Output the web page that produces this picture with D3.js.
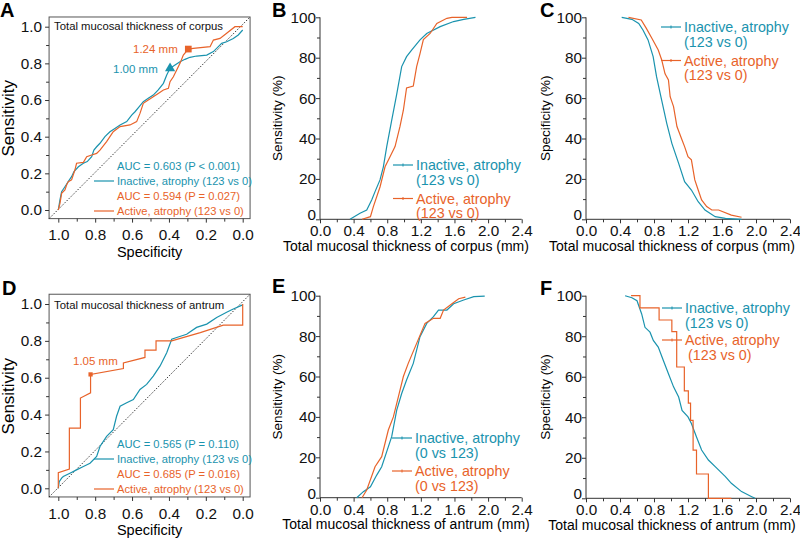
<!DOCTYPE html>
<html><head><meta charset="utf-8">
<script src="https://cdn.jsdelivr.net/npm/d3@7/dist/d3.min.js"></script>
<style>body{margin:0;background:#fff} text{font-family:Arial,"Liberation Sans",sans-serif}</style>
</head><body><svg id="c" width="800" height="541"></svg>
<script>
// ---------- data ----------
const rocTicks = [1.0, 0.8, 0.6, 0.4, 0.2, 0.0];
const mmTicks = [0, 0.4, 0.8, 1.2, 1.6, 2.0, 2.4];
const pctTicks = [0, 20, 40, 60, 80, 100];
const seriesNames = ["Inactive, atrophy", "Active, atrophy"];

// Panel A: ROC corpus [specificity, sensitivity]
const rocCorpusInactive = [[1,0],[0.991,0.055],[0.982,0.1],[0.964,0.127],[0.946,0.155],[0.928,0.182],[0.915,0.209],[0.891,0.236],[0.864,0.255],[0.843,0.264],[0.819,0.291],[0.807,0.327],[0.792,0.345],[0.774,0.364],[0.747,0.4],[0.72,0.427],[0.693,0.445],[0.665,0.464],[0.629,0.482],[0.602,0.518],[0.584,0.536],[0.561,0.564],[0.539,0.591],[0.512,0.609],[0.485,0.627],[0.458,0.655],[0.43,0.691],[0.412,0.736],[0.394,0.773],[0.367,0.791],[0.34,0.809],[0.313,0.822],[0.286,0.833],[0.25,0.84],[0.195,0.845],[0.159,0.864],[0.132,0.891],[0.114,0.909],[0.087,0.918],[0.051,0.936],[0.024,0.955],[0,0.982]];
const rocCorpusActive = [[1,0],[0.991,0.036],[0.982,0.091],[0.964,0.109],[0.955,0.136],[0.946,0.155],[0.928,0.164],[0.91,0.218],[0.901,0.255],[0.864,0.26],[0.846,0.291],[0.819,0.3],[0.792,0.309],[0.774,0.327],[0.738,0.373],[0.702,0.427],[0.665,0.455],[0.611,0.464],[0.575,0.482],[0.557,0.527],[0.539,0.582],[0.512,0.6],[0.485,0.618],[0.458,0.636],[0.43,0.655],[0.403,0.664],[0.394,0.7],[0.376,0.727],[0.358,0.764],[0.34,0.8],[0.322,0.845],[0.295,0.878],[0.268,0.882],[0.177,0.891],[0.159,0.927],[0.123,0.936],[0.087,0.964],[0.042,1.0],[0,1.0]];
const cutCorpus = [[0.394,0.773,"1.00 mm"],[0.295,0.878,"1.24 mm"]];
const aucCorpus = ["AUC = 0.603 (P < 0.001)", "AUC = 0.594 (P = 0.027)"];

// Panel D: ROC antrum
const rocAntrumInactive = [[1,0],[0.995,0.036],[0.982,0.055],[0.973,0.064],[0.937,0.082],[0.901,0.1],[0.864,0.118],[0.828,0.136],[0.792,0.173],[0.774,0.227],[0.738,0.282],[0.702,0.318],[0.684,0.391],[0.665,0.445],[0.629,0.464],[0.593,0.482],[0.557,0.536],[0.521,0.564],[0.485,0.609],[0.448,0.664],[0.412,0.736],[0.385,0.809],[0.358,0.818],[0.304,0.836],[0.25,0.873],[0.195,0.891],[0.141,0.927],[0.087,0.955],[0.051,0.973],[0,0.995]];
const rocAntrumActive = [[1,0],[1,0.085],[0.94,0.105],[0.94,0.327],[0.88,0.327],[0.88,0.49],[0.825,0.518],[0.825,0.618],[0.647,0.65],[0.647,0.68],[0.53,0.71],[0.53,0.75],[0.47,0.75],[0.47,0.8],[0.385,0.8],[0.23,0.845],[0.105,0.885],[0,0.885],[0,1.0]];
const cutAntrum = [[0.825,0.618,"1.05 mm"]];
const aucAntrum = ["AUC = 0.565 (P = 0.110)", "AUC = 0.685 (P = 0.016)"];

// Panel B: sensitivity (%) vs corpus thickness (mm)
const sensCorpusInactive = [[0.357,0],[0.476,3],[0.556,4.6],[0.615,9.6],[0.655,13.7],[0.714,19.5],[0.754,26],[0.794,36],[0.853,49],[0.913,62],[0.972,75.6],[1.03,80.5],[1.09,83.8],[1.19,88.8],[1.27,92],[1.43,95.4],[1.59,97.9],[1.71,99],[1.85,100]];
const sensCorpusActive = [[0.5,0],[0.6,1.3],[0.635,6.3],[0.714,16],[0.774,26],[0.833,31],[0.893,36],[0.952,46],[0.992,54],[1.03,65],[1.11,66],[1.15,75.6],[1.19,82],[1.23,89],[1.31,92],[1.39,97],[1.51,99.5],[1.57,100],[1.75,100]];
// Panel C: specificity (%) vs corpus thickness
const specCorpusInactive = [[0.42,100],[0.54,99],[0.62,97],[0.67,93.7],[0.73,88.8],[0.79,80.5],[0.83,70.6],[0.89,59],[0.95,47.5],[1.01,37.6],[1.09,27.7],[1.16,18.6],[1.24,14.5],[1.32,8.7],[1.4,4.6],[1.52,1.3],[1.64,0.5],[1.83,0]];
const specCorpusActive = [[0.5,100],[0.65,98.7],[0.71,94.5],[0.77,90],[0.85,83.8],[0.89,79],[0.93,72],[0.97,69],[0.99,60.7],[1.03,55.8],[1.07,45.9],[1.13,39.3],[1.16,36],[1.2,31],[1.24,29.4],[1.28,19.5],[1.32,14.5],[1.36,9.6],[1.42,6.3],[1.48,4.6],[1.56,4.6],[1.71,2.1],[1.83,1]];
// Panel E: sensitivity (%) vs antrum thickness
const sensAntrumInactive = [[0.437,0],[0.516,3],[0.6,5.4],[0.675,11.2],[0.734,15.3],[0.794,22.8],[0.853,30.2],[0.913,43.4],[0.972,51.6],[1.03,58.3],[1.11,66.5],[1.19,79.7],[1.27,86.3],[1.35,89.6],[1.41,92.9],[1.51,92.9],[1.59,96],[1.71,97.9],[1.83,99.5],[1.96,99.8]];
const sensAntrumActive = [[0.5,0],[0.556,3.8],[0.655,15.3],[0.734,20.3],[0.813,33.5],[0.873,40],[0.933,50],[0.992,60],[1.05,66.5],[1.15,76.4],[1.25,86.3],[1.35,88.8],[1.43,88.8],[1.47,92.9],[1.57,96],[1.65,98.5],[1.73,99.3]];
// Panel F: specificity (%) vs antrum thickness
const specAntrumInactive = [[0.46,100],[0.54,99],[0.6,97.5],[0.655,91],[0.694,84.4],[0.753,82],[0.792,77.9],[0.85,74.6],[0.91,68],[0.97,61.5],[1.03,55],[1.09,50],[1.13,43.4],[1.2,40.2],[1.24,36.9],[1.3,30.3],[1.36,23.8],[1.44,18.9],[1.52,15.6],[1.64,10.7],[1.71,7.4],[1.83,3.3],[1.95,0.8],[1.99,0]];
const specAntrumActive = [[0.53,100],[0.635,94],[0.86,88],[1.01,82.3],[1.067,64.8],[1.157,53],[1.204,47],[1.23,38.5],[1.26,23.8],[1.3,12],[1.44,0],[1.71,0]];

// ---------- drawing ----------
const teal = "#1A93AE", orange = "#E8632A", axisCol = "#333";
const svg = d3.select("#c");

function letter(t, x, y){
  svg.append("text").attr("x",x).attr("y",y).attr("font-size",20).attr("font-weight","bold").text(t);
}
function styleAxis(g){
  g.select(".domain").remove();
  g.selectAll(".tick line").attr("stroke",axisCol);
  g.selectAll("text").attr("font-size",15.3).attr("fill","#111");
}

function rocPanel(p){
  const g = svg.append("g");
  const x = d3.scaleLinear().domain([1,0]).range(p.xr);
  const y = d3.scaleLinear().domain([0,1]).range(p.yr);
  const l = x(1.05), r = x(-0.04), b = y(-0.047), t = y(1.053);
  g.append("rect").attr("x",l).attr("y",t).attr("width",r-l).attr("height",b-t)
    .attr("fill","none").attr("stroke","#555").attr("stroke-width",1);
  g.append("line").attr("x1",l).attr("y1",b).attr("x2",r).attr("y2",t)
    .attr("stroke","#222").attr("stroke-width",0.9).attr("stroke-dasharray","1.5,1.6");
  const ax = g.append("g").attr("transform",`translate(0,${b})`)
    .call(d3.axisBottom(x).tickValues(rocTicks).tickFormat(d3.format(".1f")).tickSize(4).tickPadding(7));
  styleAxis(ax);
  const axm = g.append("g").attr("transform",`translate(0,${b})`)
    .call(d3.axisBottom(x).tickValues([0.9,0.7,0.5,0.3,0.1]).tickFormat("").tickSize(3));
  styleAxis(axm);
  const ay = g.append("g").attr("transform",`translate(${l},0)`)
    .call(d3.axisLeft(y).tickValues(rocTicks).tickFormat(d3.format(".1f")).tickSize(4).tickPadding(3));
  styleAxis(ay);
  const aym = g.append("g").attr("transform",`translate(${l},0)`)
    .call(d3.axisLeft(y).tickValues([0.9,0.7,0.5,0.3,0.1]).tickFormat("").tickSize(3));
  styleAxis(aym);
  const line = d3.line().x(d=>x(d[0])).y(d=>y(d[1]));
  g.append("path").datum(p.s0).attr("d",line).attr("fill","none").attr("stroke",teal).attr("stroke-width",1.2);
  g.append("path").datum(p.s1).attr("d",line).attr("fill","none").attr("stroke",orange).attr("stroke-width",1.2);
  // title
  g.append("text").attr("x",l+5).attr("y",p.titleY).attr("font-size",11.3).attr("fill","#111").text(p.title);
  // cut-off markers
  p.marks.forEach(m=>{
    g.append("path").attr("transform",`translate(${x(m.v[0])},${y(m.v[1])})`)
      .attr("d",d3.symbol(m.sym).size(m.size)()).attr("fill",m.col);
    g.append("text").attr("x",m.tx).attr("y",m.ty).attr("font-size",11.5).attr("fill",m.col).text(m.v[2]);
  });
  // legend
  const lx = p.legX;
  const rows = [[p.auc[0],teal,false],[seriesNames[0]+" (123 vs 0)",teal,true],[p.auc[1],orange,false],[seriesNames[1]+" (123 vs 0)",orange,true]];
  rows.forEach((rw,i)=>{
    const yy = p.legY + i*15;
    g.append("text").attr("x",lx).attr("y",yy).attr("font-size",11.2).attr("fill",rw[1]).text(rw[0]);
    if(rw[2]) g.append("line").attr("x1",lx-23).attr("x2",lx-3).attr("y1",yy-4).attr("y2",yy-4).attr("stroke",rw[1]).attr("stroke-width",1.2);
  });
  // axis titles
  g.append("text").attr("x",(l+r)/2).attr("y",b+38.5).attr("text-anchor","middle").attr("font-size",14.5).text("Specificity");
  g.append("text").attr("transform",`translate(13.5,${(y(0)+y(1))/2}) rotate(-90)`).attr("text-anchor","middle").attr("font-size",17).text("Sensitivity");
}

function curvePanel(p){
  const g = svg.append("g");
  const x = d3.scaleLinear().domain([0,2.4]).range(p.xr);
  const y = d3.scaleLinear().domain([0,100]).range(p.yr);
  g.append("line").attr("x1",x(0)).attr("x2",x(2.4)).attr("y1",y(0)).attr("y2",y(0)).attr("stroke",axisCol);
  g.append("line").attr("x1",x(0)).attr("x2",x(0)).attr("y1",y(0)).attr("y2",y(100)).attr("stroke",axisCol);
  const ax = g.append("g").attr("transform",`translate(0,${y(0)})`)
    .call(d3.axisBottom(x).tickValues(mmTicks).tickFormat(d3.format(".1f")).tickSize(4).tickPadding(2));
  styleAxis(ax);
  const axm = g.append("g").attr("transform",`translate(0,${y(0)})`)
    .call(d3.axisBottom(x).tickValues([0.2,0.6,1.0,1.4,1.8,2.2]).tickFormat("").tickSize(3));
  styleAxis(axm);
  const ay = g.append("g").attr("transform",`translate(${x(0)},0)`)
    .call(d3.axisLeft(y).tickValues(pctTicks).tickSize(4).tickPadding(0));
  styleAxis(ay);
  ay.selectAll(".tick text").filter(d=>d===0).attr("dy","0.02em");
  const aym = g.append("g").attr("transform",`translate(${x(0)},0)`)
    .call(d3.axisLeft(y).tickValues([10,30,50,70,90]).tickFormat("").tickSize(3));
  styleAxis(aym);
  const line = d3.line().x(d=>x(d[0])).y(d=>y(d[1]));
  const line1 = d3.line().x(d=>x(d[0])).y(d=>y(d[1])).curve(p.step1 ? d3.curveStepAfter : d3.curveLinear);
  g.append("path").datum(p.s0).attr("d",line).attr("fill","none").attr("stroke",teal).attr("stroke-width",1.2);
  g.append("path").datum(p.s1).attr("d",line1).attr("fill","none").attr("stroke",orange).attr("stroke-width",1.2);
  // legend
  const cols=[teal,orange];
  [0,1].forEach(i=>{
    const y0 = p.legY[i];
    g.append("line").attr("x1",p.legX-23).attr("x2",p.legX-3).attr("y1",y0-5).attr("y2",y0-5).attr("stroke",cols[i]).attr("stroke-width",1.2);
    g.append("line").attr("x1",p.legX-13).attr("x2",p.legX-13).attr("y1",y0-6.5).attr("y2",y0-3.5).attr("stroke",cols[i]).attr("stroke-width",1);
    g.append("text").attr("x",p.legX).attr("y",y0).attr("font-size",14.3).attr("fill",cols[i]).text(seriesNames[i]);
    g.append("text").attr("x",p.legX+(p.indent2&&i==1?3:0)).attr("y",y0+14.5).attr("font-size",14.3).attr("fill",cols[i]).text(p.sub);
  });
  g.append("text").attr("x",p.titleX).attr("y",p.titleY).attr("text-anchor","middle").attr("font-size",14).text(p.xTitle);
  g.append("text").attr("transform",`translate(${p.yTitleX},${(y(0)+y(100))/2}) rotate(-90)`).attr("text-anchor","middle").attr("font-size",13.5).text(p.yTitle);
}

rocPanel({xr:[58.3,242.7], yr:[210,26.7], s0:rocCorpusInactive, s1:rocCorpusActive,
  title:"Total mucosal thickness of corpus", titleY:30, auc:aucCorpus, legX:117, legY:170,
  marks:[{v:cutCorpus[0],sym:d3.symbolTriangle,size:45,col:teal,tx:113,ty:73},
         {v:cutCorpus[1],sym:d3.symbolSquare,size:45,col:orange,tx:133,ty:53}]});
rocPanel({xr:[58.3,242.7], yr:[488.3,304], s0:rocAntrumInactive, s1:rocAntrumActive,
  title:"Total mucosal thickness of antrum", titleY:309, auc:aucAntrum, legX:117, legY:448,
  marks:[{v:cutAntrum[0],sym:d3.symbolSquare,size:18,col:orange,tx:73,ty:365}]});

curvePanel({xr:[320,521.7], yr:[219.3,17.3], s0:sensCorpusInactive, s1:sensCorpusActive,
  legX:416, legY:[170,203.5], sub:"(123 vs 0)", xTitle:"Total mucosal thickness of corpus (mm)", titleX:406, titleY:251,
  yTitle:"Sensitivity (%)", yTitleX:282});
curvePanel({xr:[586,790], yr:[219.3,17.3], s0:specCorpusInactive, s1:specCorpusActive,
  legX:684, legY:[32,65.5], sub:"(123 vs 0)", xTitle:"Total mucosal thickness of corpus (mm)", titleX:672, titleY:251,
  yTitle:"Specificity (%)", yTitleX:550});
curvePanel({xr:[320,521.7], yr:[497.7,295.7], s0:sensAntrumInactive, s1:sensAntrumActive,
  legX:415, legY:[443,476], sub:"(0 vs 123)", xTitle:"Total mucosal thickness of antrum (mm)", titleX:406, titleY:529,
  yTitle:"Sensitivity (%)", yTitleX:282});
curvePanel({xr:[586,790], yr:[498.3,295.7], s0:specAntrumInactive, s1:specAntrumActive, step1:true, indent2:true,
  legX:685, legY:[313,345], sub:"(123 vs 0)", xTitle:"Total mucosal thickness of antrum (mm)", titleX:672, titleY:530,
  yTitle:"Specificity (%)", yTitleX:550});

letter("A",0,17); letter("B",272,17); letter("C",540,17);
letter("D",2,295); letter("E",272,293); letter("F",540,295);
</script></body></html>
